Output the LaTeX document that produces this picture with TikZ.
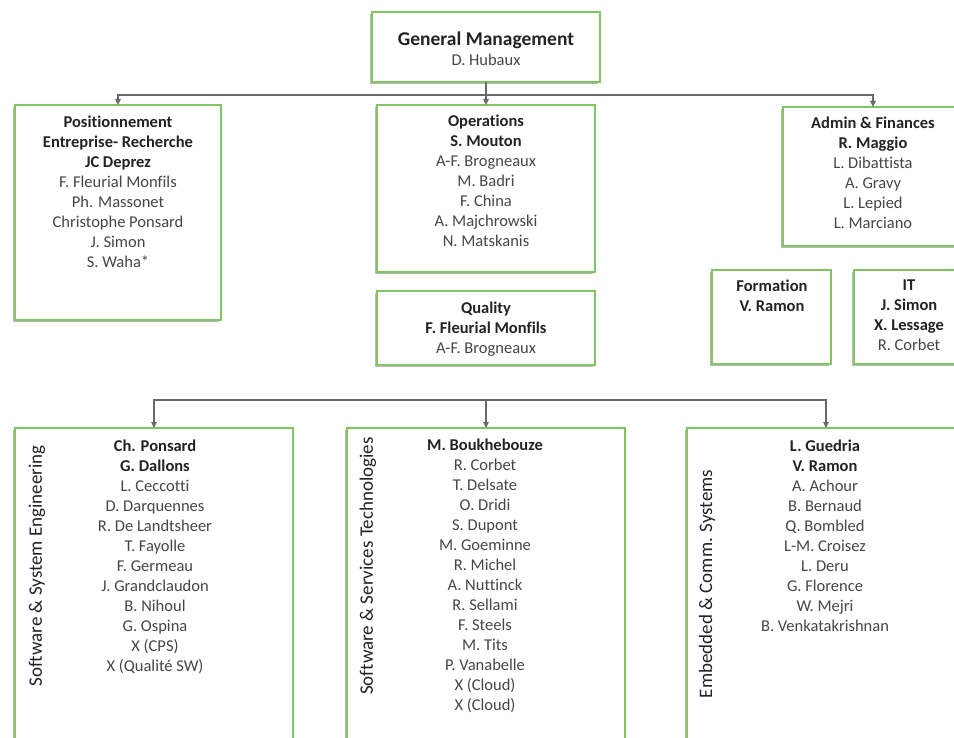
\documentclass[tikz,border=0pt]{standalone}
\usepackage{fontspec}
\setmainfont[Ligatures=NoCommon]{Carlito}
\usetikzlibrary{arrows.meta, shadows}
\definecolor{unitgreen}{RGB}{130,198,98}
\definecolor{linkgray}{RGB}{105,105,105}
\definecolor{namegray}{RGB}{70,70,70}
\definecolor{headgray}{RGB}{35,35,35}
\newcommand{\unithead}[1]{\textbf{\textcolor{headgray}{#1}}}
\tikzset{
  unit box/.style={
    draw=unitgreen,
    line width=1.8pt,
    fill=white,
    inner sep=0pt,
    outer sep=0pt,
    anchor=north west,
    drop shadow={shadow xshift=-2.4pt, shadow yshift=-2.4pt, fill=black!50, opacity=0.55}
  },
  staff list/.style={
    align=center,
    anchor=north,
    inner sep=0pt,
    text=namegray,
    font=\fontsize{16.5}{20}\selectfont
  },
  group label/.style={
    rotate=90,
    inner sep=0pt,
    text=headgray,
    font=\fontsize{19}{22}\selectfont
  },
  link/.style={
    draw=linkgray,
    line width=1.4pt
  },
  link arrow/.style={
    link,
    -{Triangle[length=6pt, width=5.5pt]}
  }
}
\begin{document}
\begin{tikzpicture}[x=1pt, y=-1pt]
    \useasboundingbox (0,0) rectangle (954,738);

    % cadres des unites
    \node[unit box, minimum width=228pt, minimum height=70pt] (gm) at (372,12) {};
    \node[unit box, minimum width=206pt, minimum height=215pt] (pos) at (15,105) {};
    \node[unit box, minimum width=218pt, minimum height=167pt] (ops) at (377,105) {};
    \node[unit box, minimum width=218pt, minimum height=74pt] (quality) at (377,291) {};
    \node[unit box, minimum width=180pt, minimum height=139pt] (admin) at (783,107) {};
    \node[unit box, minimum width=119pt, minimum height=94pt] (formation) at (712,270) {};
    \node[unit box, minimum width=120pt, minimum height=94pt] (it) at (854,270) {};
    \node[unit box, minimum width=278pt, minimum height=330pt] (sse) at (15,428) {};
    \node[unit box, minimum width=278pt, minimum height=330pt] (sst) at (347,428) {};
    \node[unit box, minimum width=278pt, minimum height=330pt] (ecs) at (687,428) {};

    % textes
    \node[staff list] (gm text) at (486,32)
      {{\fontsize{19.5}{21}\selectfont\unithead{General Management}}\\ D. Hubaux};
    \node[staff list] (pos text) at (118,116)
      {\unithead{Positionnement}\\ \unithead{Entreprise- Recherche}\\ \unithead{JC Deprez}\\
       F. Fleurial Monfils\\ Ph. Massonet\\ Christophe Ponsard\\ J. Simon\\ S. Waha*};
    \node[staff list] (ops text) at (486,115)
      {\unithead{Operations}\\ \unithead{S. Mouton}\\ A-F. Brogneaux\\ M. Badri\\
       F. China\\ A. Majchrowski\\ N. Matskanis};
    \node[staff list] (quality text) at (486,302)
      {\unithead{Quality}\\ \unithead{F. Fleurial Monfils}\\ A-F. Brogneaux};
    \node[staff list] (admin text) at (873,117)
      {\unithead{Admin \& Finances}\\ \unithead{R. Maggio}\\ L. Dibattista\\ A. Gravy\\
       L. Lepied\\ L. Marciano};
    \node[staff list] (formation text) at (772,280)
      {\unithead{Formation}\\ \unithead{V. Ramon}};
    \node[staff list] (it text) at (909,280)
      {\unithead{IT}\\ \unithead{J. Simon}\\ \unithead{X. Lessage}\\ R. Corbet};
    \node[staff list] (sse text) at (155,440)
      {\unithead{Ch. Ponsard}\\ \unithead{G. Dallons}\\ L. Ceccotti\\ D. Darquennes\\
       R. De Landtsheer\\ T. Fayolle\\ F. Germeau\\ J. Grandclaudon\\ B. Nihoul\\
       G. Ospina\\ X (CPS)\\ X (Qualité SW)};
    \node[staff list] (sst text) at (485,439)
      {\unithead{M. Boukhebouze}\\ R. Corbet\\ T. Delsate\\ O. Dridi\\ S. Dupont\\
       M. Goeminne\\ R. Michel\\ A. Nuttinck\\ R. Sellami\\ F. Steels\\ M. Tits\\
       P. Vanabelle\\ X (Cloud)\\ X (Cloud)};
    \node[staff list] (ecs text) at (825,440)
      {\unithead{L. Guedria}\\ \unithead{V. Ramon}\\ A. Achour\\ B. Bernaud\\
       Q. Bombled\\ L-M. Croisez\\ L. Deru\\ G. Florence\\ W. Mejri\\
       B. Venkatakrishnan};

    % titres verticaux des groupes
    \node[group label] (sse label) at (37,566) {Software \& System Engineering};
    \node[group label] (sst label) at (368,566) {Software \& Services Technologies};
    \node[group label] (ecs label) at (707,584) {Embedded \& Comm. Systems};

    % liaisons
    \coordinate (top bus) at (486,95);
    \draw[link] (gm.south) -- (top bus);
    \draw[link arrow] (top bus) -| (pos.north);
    \draw[link arrow] (top bus) -- (ops.north);
    \draw[link arrow] (top bus) -| (admin.north);

    \coordinate (bottom bus) at (486,400);
    \draw[link arrow] (bottom bus) -| (sse.north);
    \draw[link arrow] (bottom bus) -- (sst.north);
    \draw[link arrow] (bottom bus) -| (ecs.north);

\end{tikzpicture}
\end{document}
